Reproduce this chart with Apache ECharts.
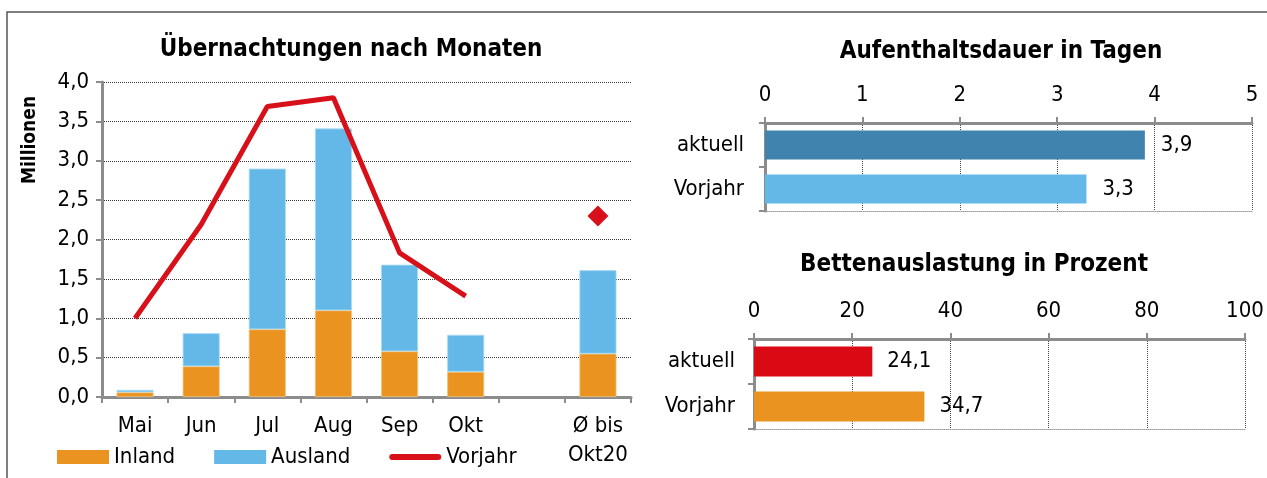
<!DOCTYPE html>
<html>
<head>
<meta charset="utf-8">
<script src="https://cdn.jsdelivr.net/npm/echarts@6/dist/echarts.min.js"></script>
<style>
  html, body { margin: 0; padding: 0; background: #fff; }
  #main { width: 1267px; height: 478px; }
</style>
</head>
<body>
<div id="main"></div>
<script>
// Übernachtungen nach Monaten (Millionen)
const months = ['Mai', 'Jun', 'Jul', 'Aug', 'Sep', 'Okt', '', 'Ø bis\nOkt20'];
const inland = [0.06, 0.39, 0.86, 1.10, 0.58, 0.32, null, 0.55];
const ausland = [0.03, 0.42, 2.04, 2.31, 1.10, 0.47, null, 1.06];
const vorjahr = [1.0, 2.19, 3.69, 3.80, 1.83, 1.28, null, null];
const vorjahrAvg = [null, null, null, null, null, null, null, 2.30];

// Aufenthaltsdauer / Bettenauslastung
const rowCats = ['aktuell', 'Vorjahr'];
const dauer = [3.9, 3.3];
const auslastung = [24.1, 34.7];

const FONT = '"DejaVu Sans Condensed", "DejaVu Sans"';
const axisGray = '#8c8c8c';
const comma = (v, d) => v.toFixed(d).replace('.', ',');

const chart = echarts.init(document.getElementById('main'));

const txt = { fontFamily: FONT, fontSize: 22, color: '#000' };
const titleFont = 'bold 24px "DejaVu Sans Condensed", "DejaVu Sans"';

const option = {
  animation: false,
  textStyle: { fontFamily: FONT },
  graphic: [
    { // Rahmen
      type: 'polyline',
      shape: { points: [[7, 478], [7, 12], [1267, 12]] },
      style: { stroke: '#555', lineWidth: 1.5, fill: null }
    },
    { type: 'text', x: 351, y: 50,
      style: { text: 'Übernachtungen nach Monaten', font: titleFont, fill: '#000', textAlign: 'center', textVerticalAlign: 'middle' } },
    { type: 'text', x: 30, y: 140, rotation: Math.PI / 2,
      style: { text: 'Millionen', font: 'bold 19px "DejaVu Sans Condensed", "DejaVu Sans"', fill: '#000', textAlign: 'center', textVerticalAlign: 'middle' } },
    { type: 'text', x: 1001, y: 52,
      style: { text: 'Aufenthaltsdauer in Tagen', font: titleFont, fill: '#000', textAlign: 'center', textVerticalAlign: 'middle' } },
    { type: 'text', x: 974, y: 265,
      style: { text: 'Bettenauslastung in Prozent', font: titleFont, fill: '#000', textAlign: 'center', textVerticalAlign: 'middle' } }
  ],
  legend: {
    left: 57, top: 446, padding: 0,
    itemWidth: 52, itemHeight: 14, itemGap: 39,
    textStyle: txt,
    itemStyle: { borderWidth: 0 },
    data: [
      { name: 'Inland', icon: 'rect' },
      { name: 'Ausland', icon: 'rect' },
      { name: 'Vorjahr', icon: 'path://M3,0 L49,0 A3,3 0 0 1 49,6 L3,6 A3,3 0 0 1 3,0 Z',
        itemStyle: { color: '#D7101A' } }
    ]
  },
  grid: [
    { left: 102, top: 82, width: 529, height: 315 },
    { left: 765, top: 123, width: 487, height: 88 },
    { left: 754, top: 339, width: 491, height: 90 }
  ],
  xAxis: [
    {
      type: 'category', gridIndex: 0, data: months,
      axisLine: { lineStyle: { color: axisGray, width: 3 } },
      axisTick: { show: true, length: 6, lineStyle: { color: axisGray, width: 2 } },
      axisLabel: { ...txt, margin: 15, lineHeight: 29, interval: 0 }
    },
    {
      type: 'value', gridIndex: 1, position: 'top', min: 0, max: 5, interval: 1,
      axisLine: { show: true, lineStyle: { color: axisGray, width: 3 } },
      axisTick: { show: true, length: 6, lineStyle: { color: axisGray, width: 2 } },
      axisLabel: { ...txt, margin: 17 },
      splitLine: { show: true, lineStyle: { color: '#444', type: 'dotted', width: 1 } }
    },
    { // untere gepunktete Linie
      type: 'value', gridIndex: 1, position: 'bottom', min: 0, max: 5,
      axisLine: { show: true, lineStyle: { color: '#999', type: 'dotted', width: 1 } },
      axisTick: { show: false }, axisLabel: { show: false }, splitLine: { show: false }
    },
    {
      type: 'value', gridIndex: 2, position: 'top', min: 0, max: 100, interval: 20,
      axisLine: { show: true, lineStyle: { color: axisGray, width: 3 } },
      axisTick: { show: true, length: 6, lineStyle: { color: axisGray, width: 2 } },
      axisLabel: { ...txt, margin: 17 },
      splitLine: { show: true, lineStyle: { color: '#444', type: 'dotted', width: 1 } }
    },
    {
      type: 'value', gridIndex: 2, position: 'bottom', min: 0, max: 100,
      axisLine: { show: true, lineStyle: { color: '#999', type: 'dotted', width: 1 } },
      axisTick: { show: false }, axisLabel: { show: false }, splitLine: { show: false }
    }
  ],
  yAxis: [
    {
      type: 'value', gridIndex: 0, min: 0, max: 4, interval: 0.5,
      axisLine: { show: true, lineStyle: { color: axisGray, width: 3 } },
      axisTick: { show: true, length: 6, lineStyle: { color: axisGray, width: 2 } },
      axisLabel: { ...txt, margin: 13, formatter: v => comma(v, 1) },
      splitLine: { show: true, lineStyle: { color: '#333', type: 'dotted', width: 1 } }
    },
    {
      type: 'category', gridIndex: 1, data: rowCats, inverse: true,
      axisLine: { lineStyle: { color: axisGray, width: 3 } },
      axisTick: { show: true, length: 6, lineStyle: { color: axisGray, width: 2 } },
      axisLabel: { ...txt, margin: 21 }
    },
    {
      type: 'category', gridIndex: 2, data: rowCats, inverse: true,
      axisLine: { lineStyle: { color: axisGray, width: 3 } },
      axisTick: { show: true, length: 6, lineStyle: { color: axisGray, width: 2 } },
      axisLabel: { ...txt, margin: 19 }
    }
  ],
  series: [
    {
      name: 'Inland', type: 'bar', stack: 'm', xAxisIndex: 0, yAxisIndex: 0,
      barWidth: 37, data: inland,
      itemStyle: { color: '#EA9320', borderColor: '#f5c27a', borderWidth: 0.8 }
    },
    {
      name: 'Ausland', type: 'bar', stack: 'm', xAxisIndex: 0, yAxisIndex: 0,
      barWidth: 37, data: ausland,
      itemStyle: { color: '#63B8E8', borderColor: '#a9dcf5', borderWidth: 0.8 }
    },
    {
      name: 'Vorjahr', type: 'line', xAxisIndex: 0, yAxisIndex: 0,
      data: vorjahr, symbol: 'none', z: 5,
      lineStyle: { color: '#D7101A', width: 5 },
      itemStyle: { color: '#D7101A' }
    },
    {
      name: 'VorjahrAvg', type: 'scatter', xAxisIndex: 0, yAxisIndex: 0,
      data: vorjahrAvg, symbol: 'diamond', symbolSize: [21, 21],
      itemStyle: { color: '#D7101A', opacity: 1 }
    },
    {
      name: 'Dauer', type: 'bar', xAxisIndex: 1, yAxisIndex: 1, barWidth: 29,
      data: dauer.map((v, i) => ({ value: v, itemStyle: { color: i === 0 ? '#3F83AE' : '#63B8E8' } })),
      label: { show: true, position: 'right', distance: 16, ...txt, formatter: p => comma(p.value, 1) }
    },
    {
      name: 'Auslastung', type: 'bar', xAxisIndex: 3, yAxisIndex: 2, barWidth: 30,
      data: auslastung.map((v, i) => ({ value: v, itemStyle: { color: i === 0 ? '#DA0A14' : '#EA9320' } })),
      label: { show: true, position: 'right', distance: 15, ...txt, formatter: p => comma(p.value, 1) }
    }
  ]
};

chart.setOption(option);
</script>
</body>
</html>
